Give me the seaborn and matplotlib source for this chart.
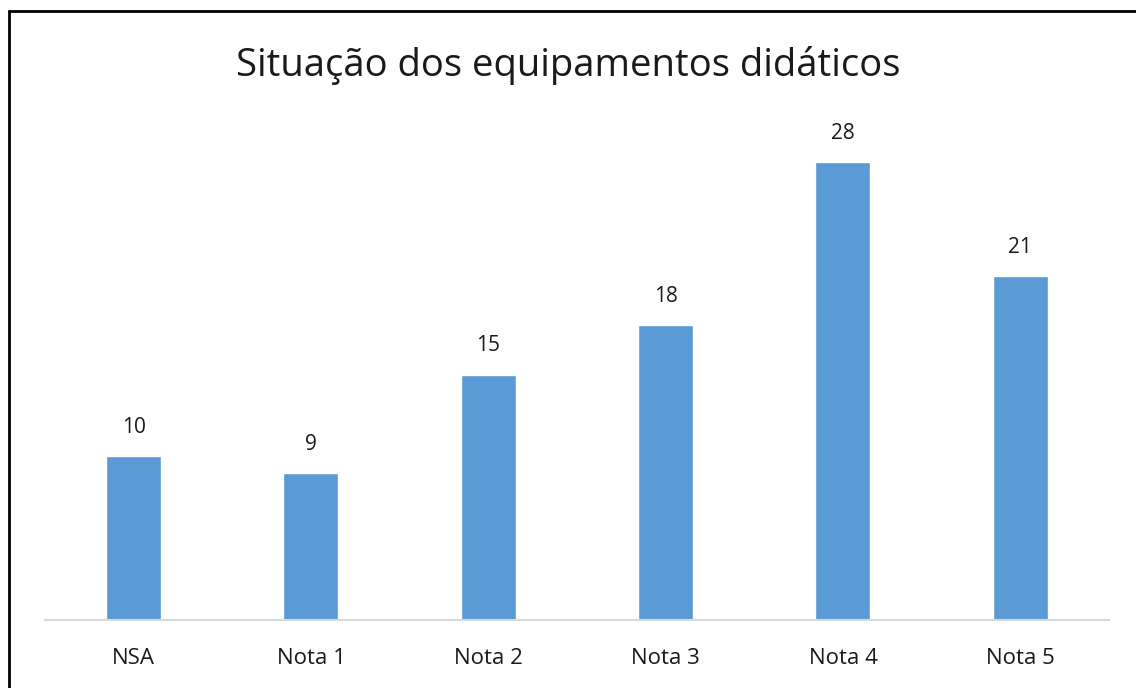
import matplotlib
matplotlib.use("Agg")
import matplotlib.pyplot as plt
import seaborn as sns
import pandas as pd
from matplotlib.lines import Line2D

# Dados
categorias = ["NSA", "Nota 1", "Nota 2", "Nota 3", "Nota 4", "Nota 5"]
valores = [10, 9, 15, 18, 28, 21]
titulo = "Situação dos equipamentos didáticos"

df = pd.DataFrame({"categoria": categorias, "valor": valores})

sns.set_theme(style="white")
plt.rcParams["font.family"] = ["Open Sans", "DejaVu Sans"]

fig = plt.figure(figsize=(11.36, 6.88), dpi=100)
ax = fig.add_axes([0.0396, 0.0988, 0.9366, 0.7137])

sns.barplot(data=df, x="categoria", y="valor", color="#5B9BD5", width=0.31,
            saturation=1, ax=ax)

ax.set_xlim(-0.5, len(categorias) - 0.5)
ax.set_ylim(0, 30)
ax.set_xlabel("")
ax.set_ylabel("")
ax.set_yticks([])
for s in ["top", "right", "left"]:
    ax.spines[s].set_visible(False)
ax.spines["bottom"].set_color("#D9D9D9")
ax.spines["bottom"].set_linewidth(1.5)
ax.tick_params(axis="x", length=0, pad=20, labelsize=16, colors="#1a1a1a")

for i, v in enumerate(valores):
    ax.annotate(str(v), (i, v), xytext=(0, 13), textcoords="offset points",
                ha="center", va="bottom", fontsize=15, color="#1a1a1a")

fig.text(0.5, 0.905, titulo, ha="center", va="center", fontsize=27.5, color="#1a1a1a")

# borda
fig.add_artist(Line2D([0.008, 0.008], [0, 0.984], transform=fig.transFigure, color="black", lw=2))
fig.add_artist(Line2D([0.008, 1], [0.984, 0.984], transform=fig.transFigure, color="black", lw=2))

fig.savefig("out.png", dpi=100)
